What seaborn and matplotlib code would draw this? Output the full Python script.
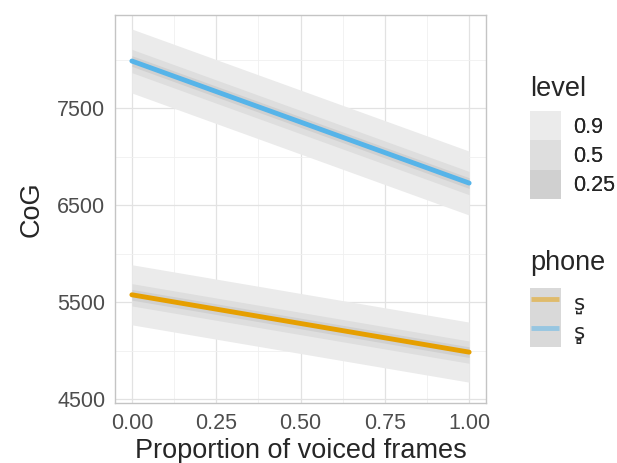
import matplotlib
matplotlib.use("Agg")
import matplotlib.pyplot as plt
import seaborn as sns
import pandas as pd
from matplotlib.patches import Patch
from matplotlib.lines import Line2D
from matplotlib.legend_handler import HandlerTuple

# values
phones = ["s\u033a", "s\u033b"]
voiced = [0.0, 1.0]
cog_fit = {"s\u033a": [5577, 4985], "s\u033b": [7990, 6730]}
# half widths of the intervals (0.9, 0.5, 0.25)
levels = [0.9, 0.5, 0.25]
half_width = {"s\u033a": [310, 115, 55], "s\u033b": [330, 120, 55]}
colors = {"s\u033a": "#E69F00", "s\u033b": "#56B4E9"}
level_fill = ["#ebebeb", "#dedede", "#d0d0d0"]

rows = []
for p in phones:
    for x, y in zip(voiced, cog_fit[p]):
        rows.append({"prop": x, "CoG": y, "phone": p})
df = pd.DataFrame(rows)

sns.set_style("white")
plt.rcParams["font.family"] = ["Liberation Sans", "DejaVu Sans"]

W, H = 617, 463
fig = plt.figure(figsize=(W / 100, H / 100), dpi=100)
ax = fig.add_axes([115 / W, 1 - 403 / H, (486 - 115) / W, (403 - 15) / H])

for p in phones:
    sub = df[df.phone == p]
    for hw, fc in zip(half_width[p], level_fill):
        ax.fill_between(sub.prop, sub.CoG - hw, sub.CoG + hw, color=fc, lw=0, zorder=1)

sns.lineplot(data=df, x="prop", y="CoG", hue="phone", palette=colors,
             linewidth=3.5, legend=False, ax=ax, zorder=3)

ax.set_xlim(-0.05, 1.05)
ax.set_ylim(4460, 8465)
ax.set_xticks([0, 0.25, 0.5, 0.75, 1.0])
ax.set_xticklabels(["0.00", "0.25", "0.50", "0.75", "1.00"])
ax.set_yticks([4500, 5500, 6500, 7500])
ax.set_xticks([0.125, 0.375, 0.625, 0.875], minor=True)
ax.set_yticks([5000, 6000, 7000, 8000], minor=True)
ax.grid(which="major", color="#e2e2e2", lw=0.9, zorder=0)
ax.grid(which="minor", color="#f0f0f0", lw=0.6, zorder=0)
ax.set_axisbelow(True)
for s in ax.spines.values():
    s.set_color("#c4c4c4")
    s.set_linewidth(1.0)
ax.tick_params(which="major", length=4, color="#c4c4c4", labelsize=15.5,
               labelcolor="#4d4d4d", pad=3)
ax.tick_params(which="minor", length=0)
ax.set_xlabel("Proportion of voiced frames", fontsize=19.5, labelpad=3)
ax.set_ylabel("CoG", fontsize=19.5, labelpad=9)

# legends
fig.text(530 / W, 1 - 89 / H, "level", fontsize=19.5, va="center", ha="left")
lvl_handles = [Patch(facecolor=c, edgecolor="none") for c in level_fill]
leg1 = fig.legend(lvl_handles, [str(l) for l in levels],
                  loc="upper left", bbox_to_anchor=(530 / W, 1 - 111 / H),
                  frameon=False, fontsize=15.5,
                  handlelength=1.42, handleheight=1.72, labelspacing=0.0,
                  handletextpad=0.6, borderpad=0, borderaxespad=0)
fig.add_artist(leg1)

fig.text(530 / W, 1 - 263 / H, "phone", fontsize=19.5, va="center", ha="left")
ph_handles = [(Patch(facecolor="#d9d9d9", edgecolor="none"),
               Line2D([], [], marker="_", ls="none", markersize=20, mew=3.5,
                      color=colors[p], alpha=0.5)) for p in phones]
leg2 = fig.legend(ph_handles, phones,
                  loc="upper left", bbox_to_anchor=(530 / W, 1 - 288 / H),
                  frameon=False, fontsize=15.5,
                  handlelength=1.42, handleheight=1.72, labelspacing=0.0,
                  handletextpad=0.6, borderpad=0, borderaxespad=0,
                  handler_map={tuple: HandlerTuple(ndivide=1, pad=0)})
for t in leg2.get_texts():
    t.set_family(["DejaVu Sans"])

fig.savefig("out.png", dpi=100)
